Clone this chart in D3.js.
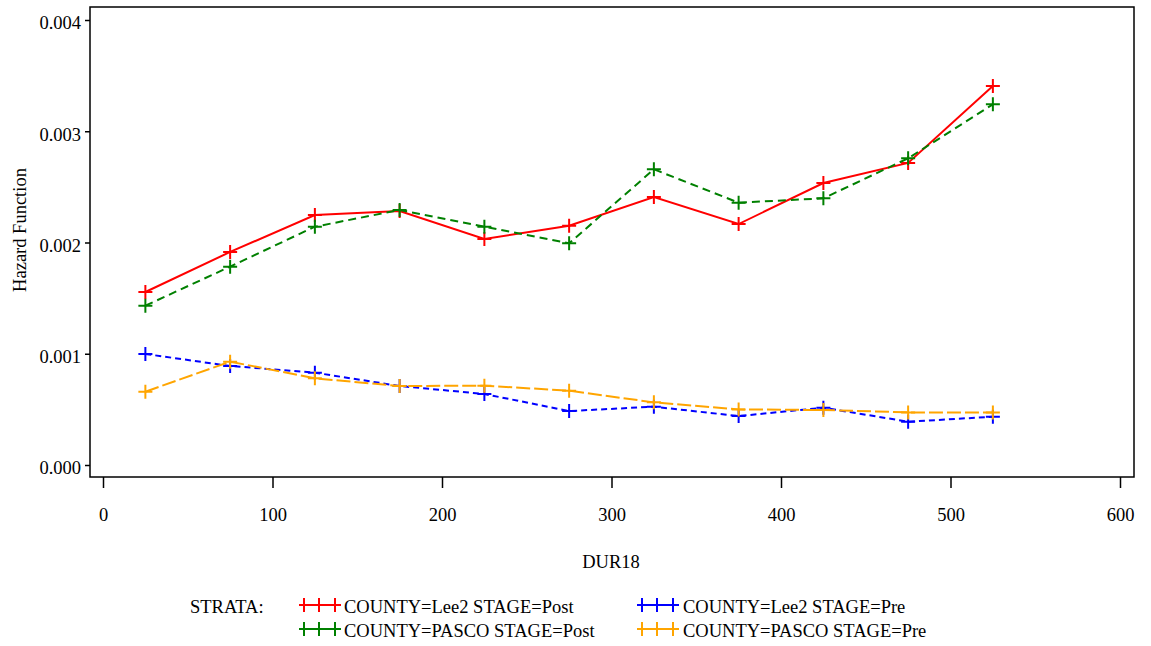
<!DOCTYPE html>
<html>
<head>
<meta charset="utf-8">
<script src="https://cdn.jsdelivr.net/npm/d3@7"></script>
<style>
  body { margin: 0; background: #fff; }
</style>
</head>
<body>
<svg id="chart" width="1151" height="646" font-family="Liberation Serif, DejaVu Serif, serif"></svg>
<script>
// Interval midpoints (DUR18)
const dur = [25, 75, 125, 175, 225, 275, 325, 375, 425, 475, 525];

// Hazard estimates per stratum
const lee2Post  = [0.001555, 0.001915, 0.002247, 0.002283, 0.002031, 0.002150, 0.002409, 0.002166, 0.002535, 0.002715, 0.003407];
const pascoPost = [0.001432, 0.001783, 0.002142, 0.002292, 0.002142, 0.001993, 0.002658, 0.002358, 0.002397, 0.002757, 0.003242];
const lee2Pre   = [0.000998, 0.000890, 0.000830, 0.000710, 0.000638, 0.000485, 0.000524, 0.000440, 0.000515, 0.000389, 0.000434];
const pascoPre  = [0.000659, 0.000929, 0.000779, 0.000710, 0.000713, 0.000668, 0.000563, 0.000500, 0.000494, 0.000473, 0.000473];

const xTicks = [0, 100, 200, 300, 400, 500, 600];
const yTicks = [0, 0.001, 0.002, 0.003, 0.004];

const series = [
  { label: "COUNTY=Lee2 STAGE=Post",  values: lee2Post,  color: "#ff0000", dash: null },
  { label: "COUNTY=PASCO STAGE=Post", values: pascoPost, color: "#008000", dash: "8,5" },
  { label: "COUNTY=Lee2 STAGE=Pre",   values: lee2Pre,   color: "#0000ff", dash: "6,4" },
  { label: "COUNTY=PASCO STAGE=Pre",  values: pascoPre,  color: "#ffa500", dash: "14,4" }
];

const SERIF = "'Liberation Serif', 'DejaVu Serif', serif";
const FONT = "18.5px";
const svg = d3.select("#chart");
const frame = { left: 90, top: 7, right: 1134, bottom: 477 };

const x = d3.scaleLinear().domain([0, 600]).range([103, 1120]);
const y = d3.scaleLinear().domain([0, 0.004]).range([465, 20]);

const styleText = sel => sel
  .attr("font-family", null)
  .style("font-family", SERIF)
  .style("font-size", FONT)
  .attr("fill", "#000");

// Plot frame
svg.append("rect")
  .attr("x", frame.left).attr("y", frame.top)
  .attr("width", frame.right - frame.left).attr("height", frame.bottom - frame.top)
  .attr("fill", "none").attr("stroke", "#000").attr("stroke-width", 1.5);

// Axes
const xAxis = svg.append("g")
  .attr("transform", `translate(0,${frame.bottom})`)
  .call(d3.axisBottom(x).tickValues(xTicks).tickSize(11).tickPadding(20).tickFormat(d3.format("d")));
const yAxis = svg.append("g")
  .attr("transform", `translate(${frame.left},0)`)
  .call(d3.axisLeft(y).tickValues(yTicks).tickSize(5).tickPadding(4).tickFormat(d3.format(".3f")));
[xAxis, yAxis].forEach(g => {
  g.attr("font-family", SERIF).attr("font-size", null);
  g.select(".domain").remove();
  g.selectAll(".tick line").attr("stroke", "#000").attr("stroke-width", 1.5);
  g.selectAll(".tick text").call(styleText);
});
yAxis.selectAll(".tick text").attr("dy", "0.48em");

// Axis titles
svg.append("text")
  .attr("x", 611).attr("y", 568)
  .attr("text-anchor", "middle")
  .call(styleText)
  .text("DUR18");
svg.append("text")
  .attr("transform", "translate(26,230) rotate(-90)")
  .attr("text-anchor", "middle")
  .call(styleText)
  .text("Hazard Function");

// Series lines and plus markers
const line = d3.line().x((d, i) => x(dur[i])).y(d => y(d));
const plus = (g, cx, cy, color, r) => {
  g.append("path")
    .attr("d", `M${cx - r},${cy}H${cx + r}M${cx},${cy - r}V${cy + r}`)
    .attr("stroke", color).attr("stroke-width", 2).attr("fill", "none");
};

series.forEach(s => {
  const g = svg.append("g");
  g.append("path")
    .datum(s.values)
    .attr("d", line)
    .attr("fill", "none")
    .attr("stroke", s.color)
    .attr("stroke-width", 2)
    .attr("stroke-dasharray", s.dash);
  s.values.forEach((v, i) => plus(g, x(dur[i]), y(v), s.color, 7));
});

// Legend
svg.append("text")
  .attr("x", 190).attr("y", 613)
  .call(styleText)
  .text("STRATA:");
const legendPos = [
  { sx: 299, tx: 344, ty: 613 },
  { sx: 299, tx: 344, ty: 637 },
  { sx: 637, tx: 683, ty: 613 },
  { sx: 637, tx: 683, ty: 637 }
];
series.forEach((s, i) => {
  const p = legendPos[i];
  const g = svg.append("g");
  const ly = p.ty - 8;
  g.append("line")
    .attr("x1", p.sx).attr("x2", p.sx + 42)
    .attr("y1", ly).attr("y2", ly)
    .attr("stroke", s.color).attr("stroke-width", 2);
  [p.sx + 5, p.sx + 20, p.sx + 36].forEach(cx => {
    g.append("line")
      .attr("x1", cx).attr("x2", cx)
      .attr("y1", ly - 7).attr("y2", ly + 7)
      .attr("stroke", s.color).attr("stroke-width", 2);
  });
  g.append("text")
    .attr("x", p.tx).attr("y", p.ty)
    .call(styleText)
    .text(s.label);
});
</script>
</body>
</html>
